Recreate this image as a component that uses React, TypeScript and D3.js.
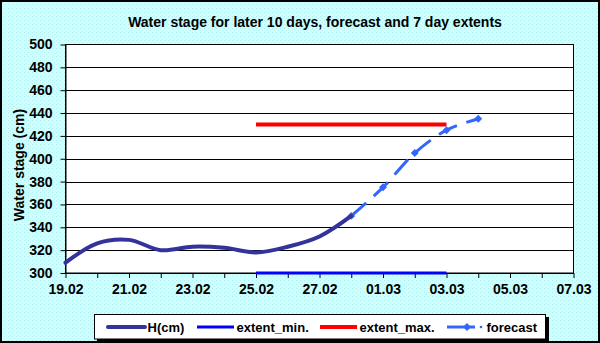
import { useEffect, useRef } from "react";
import * as d3 from "d3";

const day = (d: number, m: number) => new Date(Date.UTC(2015, m - 1, d));

const hDates = [day(19, 2), day(20, 2), day(21, 2), day(22, 2), day(23, 2), day(24, 2), day(25, 2), day(26, 2), day(27, 2), day(28, 2)];
const hValues = [309, 326, 329, 320, 323, 322, 318, 323, 332, 350];

const forecastDates = [day(28, 2), day(1, 3), day(2, 3), day(3, 3), day(4, 3)];
const forecastValues = [350, 375, 405, 425, 435];

const extentDates = [day(25, 2), day(3, 3)];
const extentMin = [300, 300];
const extentMax = [430, 430];

const xTickLabels = ["19.02", "21.02", "23.02", "25.02", "27.02", "01.03", "03.03", "05.03", "07.03"];
const yTicks = [300, 320, 340, 360, 380, 400, 420, 440, 460, 480, 500];

const legendItems = ["H(cm)", "extent_min.", "extent_max.", "forecast"];

const FONT = "'Liberation Sans', Arial, sans-serif";

const App = () => {
  const ref = useRef<SVGSVGElement>(null);

  useEffect(() => {
    document.body.style.margin = "0";
    const width = 600;
    const height = 343;
    const left = 65.5;
    const right = 573.5;
    const top = 44.5;
    const bottom = 273;

    const svg = d3.select(ref.current);
    svg.selectAll("*").remove();
    svg.attr("width", width).attr("height", height).attr("viewBox", [0, 0, width, height]);

    const defs = svg.append("defs");
    const pat = defs
      .append("pattern")
      .attr("id", "bgdots")
      .attr("width", 4)
      .attr("height", 4)
      .attr("patternUnits", "userSpaceOnUse");
    pat.append("rect").attr("width", 4).attr("height", 4).attr("fill", "#ccffff");
    pat.append("rect").attr("x", 0).attr("y", 0).attr("width", 1).attr("height", 1).attr("fill", "#b4ecec");
    pat.append("rect").attr("x", 2).attr("y", 2).attr("width", 1).attr("height", 1).attr("fill", "#bff4f4");

    svg
      .append("rect")
      .attr("x", 1)
      .attr("y", 1)
      .attr("width", width - 2)
      .attr("height", height - 2)
      .attr("fill", "url(#bgdots)")
      .attr("stroke", "#000")
      .attr("stroke-width", 2);

    const x = d3.scaleUtc().domain([day(19, 2), day(7, 3)]).range([left, right]);
    const y = d3.scaleLinear().domain([300, 500]).range([bottom, top]);

    // plot area
    svg
      .append("rect")
      .attr("x", left)
      .attr("y", top)
      .attr("width", right - left)
      .attr("height", bottom - top)
      .attr("fill", "#fff")
      .attr("stroke", "#000")
      .attr("stroke-width", 1);

    // gridlines
    svg
      .append("g")
      .selectAll("line")
      .data(yTicks.slice(1, -1))
      .join("line")
      .attr("x1", left)
      .attr("x2", right)
      .attr("y1", (d) => Math.round(y(d)) + 0.5)
      .attr("y2", (d) => Math.round(y(d)) + 0.5)
      .attr("stroke", "#000");

    // y axis
    svg
      .append("g")
      .attr("transform", `translate(${left},0)`)
      .call(d3.axisLeft(y).tickValues(yTicks).tickSize(5).tickPadding(8).tickSizeOuter(0))
      .call((g) => g.select(".domain").attr("stroke", "#000"))
      .call((g) => g.selectAll(".tick line").attr("stroke", "#000"))
      .call((g) =>
        g
          .selectAll(".tick text")
          .attr("fill", "#000")
          .attr("font-family", FONT)
          .attr("font-weight", "bold")
          .attr("font-size", 14)
      );

    // x axis
    const dayTicks = d3.utcDay.range(day(19, 2), day(8, 3));
    svg
      .append("g")
      .attr("transform", `translate(0,${bottom})`)
      .call(
        d3
          .axisBottom(x)
          .tickValues(dayTicks)
          .tickSize(5)
          .tickPadding(6)
          .tickSizeOuter(0)
          .tickFormat((d, i) => (i % 2 === 0 ? xTickLabels[i / 2] : ""))
      )
      .call((g) => g.select(".domain").attr("stroke", "#000"))
      .call((g) => g.selectAll(".tick line").attr("stroke", "#000"))
      .call((g) =>
        g
          .selectAll(".tick text")
          .attr("fill", "#000")
          .attr("font-family", FONT)
          .attr("font-weight", "bold")
          .attr("font-size", 14)
      );

    // extents
    const flat = d3
      .line<number>()
      .x((_, i) => x(extentDates[i]))
      .y((d) => y(d));
    svg
      .append("path")
      .attr("d", flat(extentMin))
      .attr("fill", "none")
      .attr("stroke", "#0000ff")
      .attr("stroke-width", 3);
    svg
      .append("path")
      .attr("d", flat(extentMax))
      .attr("fill", "none")
      .attr("stroke", "#ff0000")
      .attr("stroke-width", 4);

    // forecast
    const fLine = d3
      .line<number>()
      .x((_, i) => x(forecastDates[i]))
      .y((d) => y(d))
      .curve(d3.curveCatmullRom.alpha(0.5));
    svg
      .append("path")
      .attr("d", fLine(forecastValues))
      .attr("fill", "none")
      .attr("stroke", "#3366ff")
      .attr("stroke-width", 3)
      .attr("stroke-dasharray", "20 10");
    svg
      .append("g")
      .selectAll("path")
      .data(forecastValues)
      .join("path")
      .attr("d", d3.symbol(d3.symbolDiamond2, 40)())
      .attr("transform", (d, i) => `translate(${x(forecastDates[i])},${y(d)})`)
      .attr("fill", "#3366ff");

    // observed
    const hLine = d3
      .line<number>()
      .x((_, i) => x(hDates[i]))
      .y((d) => y(d))
      .curve(d3.curveCatmullRom.alpha(0.5));
    svg
      .append("path")
      .attr("d", hLine(hValues))
      .attr("fill", "none")
      .attr("stroke", "#333399")
      .attr("stroke-width", 4)
      .attr("stroke-linecap", "round");

    // title
    svg
      .append("text")
      .attr("x", 315)
      .attr("y", 27)
      .attr("text-anchor", "middle")
      .attr("font-family", FONT)
      .attr("font-weight", "bold")
      .attr("font-size", 14)
      .text("Water stage for later 10 days, forecast and 7 day extents");

    svg
      .append("text")
      .attr("transform", "translate(24,165) rotate(-90)")
      .attr("text-anchor", "middle")
      .attr("font-family", FONT)
      .attr("font-weight", "bold")
      .attr("font-size", 14)
      .text("Water stage (cm)");

    // legend
    const lg = svg.append("g");
    lg.append("rect").attr("x", 97).attr("y", 317).attr("width", 452).attr("height", 25).attr("fill", "#000");
    lg.append("rect")
      .attr("x", 94.5)
      .attr("y", 314.5)
      .attr("width", 451)
      .attr("height", 24.5)
      .attr("fill", "#fff")
      .attr("stroke", "#000");
    const lx = [108, 197, 320, 447];
    const colors = ["#333399", "#0000ff", "#ff0000", "#3366ff"];
    const widths = [4, 3, 4, 3];
    legendItems.forEach((name, i) => {
      lg.append("line")
        .attr("x1", lx[i])
        .attr("x2", lx[i] + (i === 3 ? 28 : 37))
        .attr("y1", 327)
        .attr("y2", 327)
        .attr("stroke", colors[i])
        .attr("stroke-width", widths[i])
        .attr("stroke-linecap", i === 0 ? "round" : "butt");
      if (i === 3) {
        lg.append("path")
          .attr("d", d3.symbol(d3.symbolDiamond2, 40)())
          .attr("transform", `translate(${lx[i] + 20},327)`)
          .attr("fill", colors[i]);
        lg.append("circle").attr("cx", lx[i] + 34).attr("cy", 327).attr("r", 1.3).attr("fill", colors[i]);
      }
      lg.append("text")
        .attr("x", lx[i] + 39.5)
        .attr("y", 332)
        .attr("font-family", FONT)
        .attr("font-weight", "bold")
        .attr("font-size", 13)
        .text(name);
    });
  }, []);

  return <svg ref={ref} style={{ position: "absolute", left: 0, top: 0 }}></svg>;
};

export default App;
